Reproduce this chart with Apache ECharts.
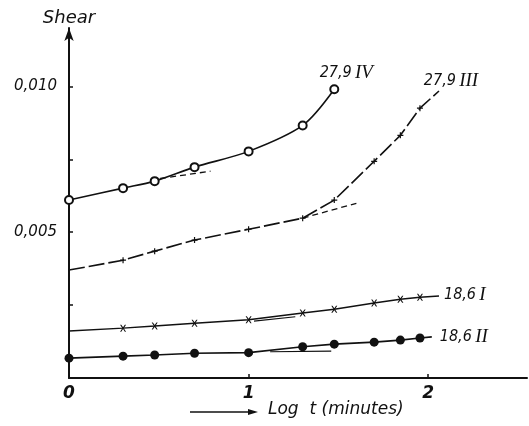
<!DOCTYPE html>
<html>
<head>
<meta charset="utf-8">
<script src="https://cdn.jsdelivr.net/npm/echarts@6/dist/echarts.min.js"></script>
<style>
  html, body { margin: 0; padding: 0; background: #fff; }
  #chart { width: 529px; height: 426px; }
</style>
</head>
<body>
<div id="chart"></div>
<script>
// log t (minutes) and shear
const logT_IV = [0, 0.301, 0.477, 0.699, 1.0, 1.301, 1.477];
const shear_IV = [0.0061, 0.00651, 0.00675, 0.00723, 0.00777, 0.00866, 0.0099];

const logT_III = [0, 0.301, 0.477, 0.699, 1.0, 1.301, 1.477, 1.699, 1.845, 1.954, 2.06];
const shear_III = [0.0037, 0.00404, 0.00435, 0.00473, 0.0051, 0.00548, 0.0061, 0.00743, 0.00832, 0.00925, 0.00984];

const logT_I = [0, 0.301, 0.477, 0.699, 1.0, 1.301, 1.477, 1.699, 1.845, 1.954, 2.06];
const shear_I = [0.00161, 0.00171, 0.00178, 0.00188, 0.00200, 0.00223, 0.00236, 0.00257, 0.0027, 0.00277, 0.00281];

const logT_II = [0, 0.301, 0.477, 0.699, 1.0, 1.301, 1.477, 1.699, 1.845, 1.954, 2.02];
const shear_II = [0.00068, 0.00075, 0.00079, 0.00085, 0.00087, 0.00107, 0.00116, 0.00123, 0.0013, 0.00137, 0.00141];

// straight-line extrapolations drawn on the figure
const fitT_IV = [0.508, 0.788];
const fitShear_IV = [0.00684, 0.00709];
const fitT_III = [1.301, 1.6];
const fitShear_III = [0.00548, 0.00599];
const fitT_I = [1.03, 1.26];
const fitShear_I = [0.00195, 0.0021];
const fitT_II = [1.12, 1.46];
const fitShear_II = [0.0009, 0.00092];

const seriesNames = ["27,9 IV", "27,9 III", "18,6 I", "18,6 II"];
const yTickValues = [0.0025, 0.005, 0.0075, 0.01];
const yLabelValues = [0.005, 0.01];
const xTickValues = [1, 2];
const xLabelValues = [0, 1, 2];

const INK = "#111";
const PLUS = "path://M4,0L6,0L6,4L10,4L10,6L6,6L6,10L4,10L4,6L0,6L0,4L4,4Z";
const CROSS = "path://M0,0L2,0L5,3.6L8,0L10,0L6.2,5L10,10L8,10L5,6.4L2,10L0,10L3.8,5Z";

const zip = (xs, ys) => xs.map((x, i) => [x, ys[i]]);

// hide marker on chosen points, put the curve name on the last one
function points(xs, ys, hidden, label) {
  return zip(xs, ys).map((p, i) => {
    const item = { value: p };
    if (hidden.includes(i)) item.symbolSize = 0;
    if (i === xs.length - 1) item.label = Object.assign({ show: true }, label);
    return item;
  });
}

const nameRich = {
  a: { fontFamily: "'Liberation Sans Narrow', 'DejaVu Sans Condensed', sans-serif", fontStyle: "italic", fontSize: 16, color: INK },
  b: { fontFamily: "'Liberation Serif', serif", fontStyle: "italic", fontSize: 19, color: INK },
};
const fmtName = (s) => {
  const [num, roman] = s.split(" ");
  return `{a|${num}} {b|${roman}}`;
};

const chart = echarts.init(document.getElementById("chart"), null, { renderer: "canvas" });

const fitLine = (xs, ys, type, width) => ({
  type: "line",
  data: zip(xs, ys),
  symbol: "none",
  silent: true,
  lineStyle: { color: INK, width: width, type: type },
  z: 1,
});

chart.setOption({
  animation: false,
  backgroundColor: "#fff",
  grid: { left: 69, right: 2, top: 28, bottom: 48 },
  xAxis: {
    type: "value",
    min: 0,
    max: 2.55,
    interval: 1,
    splitLine: { show: false },
    axisLine: { lineStyle: { color: INK, width: 2 } },
    axisTick: { inside: true, length: 4, customValues: xTickValues, lineStyle: { color: INK, width: 1.5 } },
    axisLabel: {
      customValues: xLabelValues,
      margin: 7,
      color: INK,
      fontFamily: "'DejaVu Sans', sans-serif",
      fontStyle: "italic",
      fontWeight: "bold",
      fontSize: 17,
    },
  },
  yAxis: {
    type: "value",
    min: 0,
    max: 0.012,
    name: "Shear",
    nameLocation: "end",
    nameGap: 1,
    nameTextStyle: { color: INK, fontFamily: "'DejaVu Sans', sans-serif", fontStyle: "italic", fontSize: 18 },
    splitLine: { show: false },
    axisLine: { symbol: ["none", "arrow"], symbolSize: [7, 13], lineStyle: { color: INK, width: 2 } },
    axisTick: { inside: true, length: 4, customValues: yTickValues, lineStyle: { color: INK, width: 1.5 } },
    axisLabel: {
      customValues: yLabelValues,
      margin: 12,
      color: INK,
      fontFamily: "'DejaVu Sans', sans-serif",
      fontStyle: "italic",
      fontSize: 15,
      formatter: (v) => v.toFixed(3).replace(".", ","),
    },
  },
  series: [
    {
      name: seriesNames[0],
      type: "line",
      smooth: 0.3,
      data: points(logT_IV, shear_IV, [], { position: "top", offset: [12, 3], formatter: fmtName(seriesNames[0]), rich: nameRich }),
      symbol: "emptyCircle",
      symbolSize: 8,
      itemStyle: { color: INK, borderWidth: 1.5 },
      lineStyle: { color: INK, width: 1.6 },
      z: 3,
    },
    {
      name: seriesNames[1],
      type: "line",
      data: points(logT_III, shear_III, [0, logT_III.length - 1], { position: "top", offset: [12, 4], formatter: fmtName(seriesNames[1]), rich: nameRich }),
      symbol: PLUS,
      symbolSize: 6,
      itemStyle: { color: INK },
      lineStyle: { color: INK, width: 1.6, type: [16, 4] },
      z: 3,
    },
    {
      name: seriesNames[2],
      type: "line",
      data: points(logT_I, shear_I, [0, logT_I.length - 1], { position: "right", distance: 5, offset: [0, -1], formatter: fmtName(seriesNames[2]), rich: nameRich }),
      symbol: CROSS,
      symbolSize: [6, 7],
      itemStyle: { color: INK },
      lineStyle: { color: INK, width: 1.5 },
      z: 3,
    },
    {
      name: seriesNames[3],
      type: "line",
      data: points(logT_II, shear_II, [logT_II.length - 1], { position: "right", distance: 6, offset: [2, 0], formatter: fmtName(seriesNames[3]), rich: nameRich }),
      symbol: "circle",
      symbolSize: 9,
      itemStyle: { color: INK },
      lineStyle: { color: INK, width: 1.6 },
      z: 3,
    },
    fitLine(fitT_IV, fitShear_IV, [6, 4], 1.3),
    fitLine(fitT_III, fitShear_III, [6, 4], 1.3),
    fitLine(fitT_I, fitShear_I, "solid", 1.2),
    fitLine(fitT_II, fitShear_II, "solid", 1.2),
  ],
  graphic: [
    {
      type: "line",
      shape: { x1: 190, y1: 412, x2: 250, y2: 412 },
      style: { stroke: INK, lineWidth: 1.5 },
    },
    {
      type: "polygon",
      shape: { points: [[258, 412], [248, 409], [248, 415]] },
      style: { fill: INK },
    },
    {
      type: "text",
      left: 268,
      top: 401,
      style: {
        text: "Log  t (minutes)",
        fill: INK,
        font: "italic 17px 'DejaVu Sans', sans-serif",
      },
    },
  ],
});
</script>
</body>
</html>
